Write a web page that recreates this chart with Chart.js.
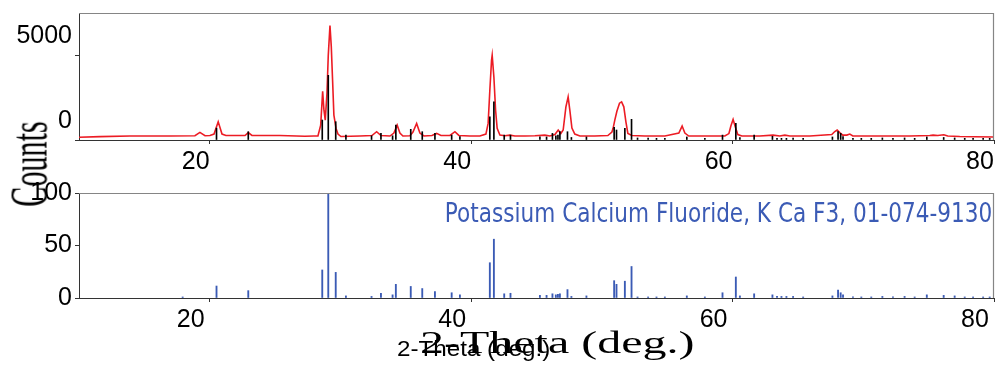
<!DOCTYPE html>
<html><head><meta charset="utf-8">
<script src="https://cdn.jsdelivr.net/npm/chart.js@4.4.1/dist/chart.umd.min.js"></script>
<style>
html,body{margin:0;padding:0;background:#fff;}
#wrap{position:relative;width:995px;height:365px;overflow:hidden;background:#fff;}
canvas{position:absolute;left:0;top:0;}
.t{position:absolute;white-space:nowrap;line-height:1;}
#counts{font-family:'Liberation Serif',serif;font-size:53px;left:28.6px;top:164.2px;transform:translate(-50%,-50%) rotate(-90deg) scaleX(0.57);color:#000;}
#xt1{font-family:'Liberation Serif',serif;font-size:32px;left:420px;top:325.9px;transform-origin:0 0;transform:scaleX(1.5);color:#000;}
#xt2{font-family:'Liberation Sans',sans-serif;font-size:22px;left:397px;top:337.9px;transform-origin:0 0;transform:scaleX(1.1);color:#000;}
#ref{font-family:'DejaVu Sans',sans-serif;font-size:27px;right:3px;top:198.9px;transform-origin:100% 0;transform:scaleX(0.8);color:#3b5bb5;}
</style></head><body>
<div id="wrap">
<canvas id="topc" width="995" height="365"></canvas>
<canvas id="botc" width="995" height="365"></canvas>
<div class="t" id="counts">Counts</div>
<div class="t" id="xt1">2-Theta (deg.)</div>
<div class="t" id="xt2">2-Theta (deg.)</div>
<div class="t" id="ref">Potassium Calcium Fluoride, K Ca F3, 01-074-9130</div>
</div>
<script>
// ---- data ----
const xTicks = [20, 40, 60, 80];
const topYTicks = [0, 5000];
const botYTicks = [0, 50, 100];

// measured pattern (red line): 2-theta and counts
const redTheta = [10.00,11.61,13.90,16.96,18.87,19.25,19.64,20.02,20.33,20.65,20.94,21.24,22.70,22.95,23.23,25.37,27.28,27.97,28.28,28.49,28.64,28.74,28.84,28.97,29.07,29.20,29.30,29.40,29.50,29.66,29.81,30.04,31.49,32.41,32.77,33.10,33.79,34.09,34.34,34.55,34.78,35.32,35.55,35.83,36.08,36.39,37.00,37.36,37.69,38.38,38.76,39.06,39.90,40.67,41.13,41.30,41.43,41.56,41.61,41.74,41.87,41.99,42.20,42.58,42.96,43.35,44.11,44.88,45.64,46.02,46.41,46.66,46.86,47.04,47.25,47.42,47.55,47.71,47.93,48.32,49.46,50.46,50.77,50.86,50.99,51.15,51.35,51.51,51.68,51.84,51.99,52.30,53.29,54.82,55.89,56.14,56.35,56.65,57.88,59.41,59.72,59.87,60.04,60.21,60.40,60.71,62.08,63.10,63.61,64.00,64.38,65.91,67.59,67.82,68.00,68.20,68.43,68.74,68.97,69.20,71.26,73.56,75.09,75.34,75.70,76.16,76.46,77.38,78.53,80.00];
const redCounts = [160,200,235,235,250,450,250,265,350,1076,350,265,265,440,270,265,220,235,235,880,2880,1760,1176,2760,5000,6760,5530,3530,1470,700,350,205,235,265,490,265,235,410,880,410,235,250,470,980,410,235,270,390,265,270,490,270,235,235,350,980,2940,4700,5000,3720,1760,690,290,250,290,235,235,250,290,235,320,590,380,590,1960,2550,1760,705,350,235,235,265,470,690,1176,1700,2175,2250,1960,1076,390,265,235,235,410,823,410,235,235,235,380,823,1217,765,320,235,235,290,235,290,235,235,320,500,590,440,290,290,350,235,235,235,265,290,265,310,235,205,190,175];

// reference sticks drawn in the upper panel (black): 2-theta and counts
const blackTheta = [20.52,22.95,28.61,29.07,29.64,30.42,32.38,33.10,33.99,34.24,35.38,36.26,37.23,38.51,39.14,41.43,41.74,42.53,43.01,45.26,45.77,46.22,46.48,46.64,46.79,47.37,47.67,48.82,50.94,51.12,51.76,52.27,52.73,53.54,54.18,54.82,56.50,57.88,59.23,60.25,60.56,61.65,63.05,63.40,63.74,64.12,64.63,65.40,67.64,68.07,68.27,68.45,69.21,69.85,70.61,71.46,72.27,73.16,73.93,74.86,76.15,76.99,77.76,78.40,79.17,79.67];
const blackCounts = [700,490,1180,3820,1080,290,250,390,250,880,630,490,390,290,200,1370,2250,290,290,180,180,390,250,290,490,490,150,180,745,590,690,1220,120,120,100,100,180,100,290,980,150,290,220,100,100,100,120,100,180,490,390,200,100,100,100,120,100,120,100,180,150,120,100,100,100,100];

// Potassium Calcium Fluoride reference card (blue): 2-theta and relative intensity
const refTheta = [17.93,20.52,22.95,28.61,29.07,29.64,30.42,32.38,33.10,33.99,34.24,35.38,36.26,37.23,38.51,39.14,41.43,41.74,42.53,43.01,45.26,45.77,46.22,46.48,46.64,46.79,47.37,47.67,48.82,50.94,51.12,51.76,52.27,52.73,53.54,54.18,54.82,56.50,57.88,59.23,60.25,60.56,61.65,63.05,63.40,63.74,64.12,64.63,65.40,67.64,68.07,68.27,68.45,69.21,69.85,70.61,71.46,72.27,73.16,73.93,74.86,76.15,76.99,77.76,78.40,79.17,79.67];
const refIntensity = [1,11.4,7,26.7,100,24.4,2,1.5,4.5,3,13,11,9,6,5,3,33.6,56,4,4.5,2.5,2.5,4,3,3.5,4,8,1.5,2,16.5,13,16,30,1,1,1,1,2,1,5,20,2,4,3,1.5,1.5,1.5,1.5,1,2,7.6,5,3,1,1,1,1.5,1,1.5,1,3,2.5,2,1,1,1,1];

// ---- chart helpers ----
const tickFont = {family: "'Liberation Sans', Arial, sans-serif", size: 25};
const frame = {
  id: 'frame',
  afterDatasetsDraw(chart) {
    const a = chart.chartArea, c = chart.ctx;
    c.save();
    c.strokeStyle = '#858585'; c.lineWidth = 1.2;
    c.beginPath();
    c.moveTo(a.left, a.top + 0.5); c.lineTo(a.right, a.top + 0.5);
    c.moveTo(a.right - 0.5, a.top); c.lineTo(a.right - 0.5, a.bottom);
    c.stroke();
    c.restore();
  }
};
function xScale(labelOffset, height) {
  return {
    type: 'linear', min: 10, max: 80, offset: false, position: 'bottom',
    afterBuildTicks: s => { s.ticks = xTicks.map(v => ({value: v})); },
    afterFit: s => { s.height = height; s.paddingLeft = 0; s.paddingRight = 0; },
    grid: {display: true, drawOnChartArea: false, drawTicks: true, tickLength: 4, color: '#333', offset: false},
    border: {display: true, color: '#333', width: 1},
    ticks: {font: tickFont, color: '#000', padding: 3, labelOffset: labelOffset, maxRotation: 0, autoSkip: false,
            callback: v => String(v)}
  };
}
function yScale(max, ticks, labelOffset) {
  return {
    type: 'linear', min: 0, max: max,
    afterBuildTicks: s => { s.ticks = ticks.map(v => ({value: v})); },
    afterFit: s => { s.width = 79; s.paddingTop = 0; s.paddingBottom = 0; },
    grid: {display: true, drawOnChartArea: false, drawTicks: true, tickLength: 4, color: '#333'},
    border: {display: true, color: '#333', width: 1},
    ticks: {font: tickFont, color: '#000', padding: 3, labelOffset: labelOffset, autoSkip: false,
            callback: v => String(v)}
  };
}
const common = {
  responsive: false, animation: false, devicePixelRatio: 1,
  plugins: {legend: {display: false}, tooltip: {enabled: false}}
};

new Chart(document.getElementById('topc'), {
  type: 'line',
  data: {datasets: [
    {type: 'bar', data: blackTheta.map((t, i) => ({x: t, y: blackCounts[i]})),
     backgroundColor: '#000', barThickness: 1, grouped: false, order: 0},
    {type: 'line', data: redTheta.map((t, i) => ({x: t, y: redCounts[i]})),
     borderColor: '#ec1c24', borderWidth: 1.6, pointRadius: 0, tension: 0, order: 1}
  ]},
  options: Object.assign({}, common, {
    layout: {padding: {top: 13, right: 1, left: 0, bottom: 0}},
    scales: {x: xScale(-14, 225), y: yScale(7500, topYTicks, -19)}
  }),
  plugins: [frame]
});

new Chart(document.getElementById('botc'), {
  type: 'bar',
  data: {datasets: [
    {data: refTheta.map((t, i) => ({x: t, y: refIntensity[i]})),
     backgroundColor: '#3b5bb5', barThickness: 1.2, grouped: false}
  ]},
  options: Object.assign({}, common, {
    layout: {padding: {top: 193, right: 1, left: 0, bottom: 0}},
    scales: {x: xScale(-19, 67), y: yScale(100, botYTicks, 0)}
  }),
  plugins: [frame]
});
</script>
</body></html>
